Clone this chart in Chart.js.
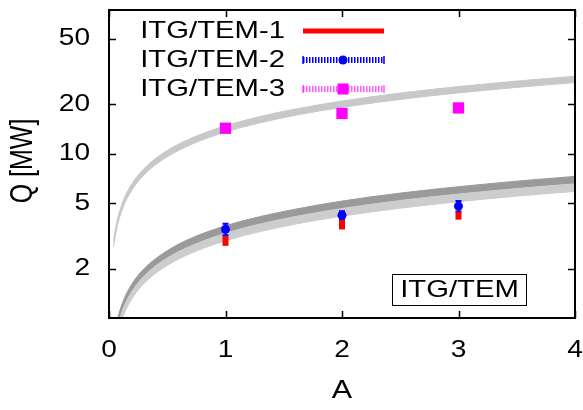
<!DOCTYPE html>
<html lang="en">
<head>
    <meta charset="UTF-8">
    <title>Q vs A</title>
    <script src="https://cdn.jsdelivr.net/npm/chart.js"></script>
    <style>
        body { margin: 0; background: #fff; }
    </style>
</head>
<body>
    <canvas id="qChart" width="583" height="410"></canvas>

    <script>
        // measured points
        const massNumbers = [1, 2, 3];
        const itg1 = [2.95, 3.7, 4.2];
        const itg1Err = [0.2, 0.24, 0.23];
        const itg2 = [3.47, 4.22, 4.8];
        const itg2Err = [0.28, 0.25, 0.35];
        const itg3 = [14.3, 17.6, 19.0];
        const itg3Err = [0.4, 0.5, 0.7];

        // scaling bands
        const bandA = [0.04, 0.06, 0.09, 0.13, 0.18, 0.25, 0.35, 0.5, 0.7, 1, 1.3, 1.6, 2, 2.5, 3, 3.5, 4];
        const upperHigh = [2.96, 3.63, 4.44, 5.34, 6.28, 7.40, 8.76, 10.47, 12.38, 14.8, 16.87, 18.72, 20.93, 23.40, 25.63, 27.69, 29.6];
        const upperLow = [2.71, 3.32, 4.07, 4.89, 5.75, 6.78, 8.02, 9.58, 11.34, 13.55, 15.45, 17.14, 19.16, 21.42, 23.47, 25.35, 27.1];
        const darkHigh = [0.73, 0.89, 1.09, 1.31, 1.54, 1.82, 2.15, 2.57, 3.05, 3.64, 4.15, 4.60, 5.15, 5.76, 6.30, 6.81, 7.28];
        const darkLow = [0.66, 0.80, 0.98, 1.18, 1.39, 1.64, 1.94, 2.32, 2.74, 3.28, 3.74, 4.15, 4.64, 5.19, 5.68, 6.14, 6.56];
        const lightLow = [0.59, 0.72, 0.89, 1.06, 1.25, 1.48, 1.75, 2.09, 2.47, 2.95, 3.36, 3.73, 4.17, 4.66, 5.11, 5.52, 5.90];

        const xTicks = [0, 1, 2, 3, 4];
        const yTicks = [2, 5, 10, 20, 50];
        const legendLabels = ['ITG/TEM-1', 'ITG/TEM-2', 'ITG/TEM-3'];

        const SX = 1.22; // picture is stretched sideways
        const FONT = '"Liberation Sans", Arial, Helvetica, sans-serif';

        function txt(ctx, s, x, y, size, align, rotated) {
            ctx.save();
            ctx.translate(x, y);
            if (rotated) {
                ctx.rotate(-Math.PI / 2);
                ctx.scale(1, SX);
            } else {
                ctx.scale(SX, 1);
            }
            ctx.font = size + 'px ' + FONT;
            ctx.fillStyle = '#000';
            ctx.textAlign = align;
            ctx.textBaseline = 'middle';
            ctx.fillText(s, 0, 0);
            ctx.restore();
        }

        const pts = (xs, ys) => xs.map((x, i) => ({ x: x, y: ys[i] }));

        function band(label, ys, color, fill) {
            return {
                label: label,
                data: pts(bandA, ys),
                borderColor: color,
                backgroundColor: color,
                borderWidth: 1,
                pointRadius: 0,
                fill: fill,
                cubicInterpolationMode: 'monotone'
            };
        }

        // error bars go under their own markers
        const errorBars = {
            id: 'errorBars',
            beforeDatasetDraw(chart, args) {
                const ds = chart.data.datasets[args.index];
                if (!ds.errors) return;
                const ctx = chart.ctx;
                const xs = chart.scales.x, ys = chart.scales.y;
                ctx.save();
                ctx.strokeStyle = ds.barColor;
                ctx.lineWidth = ds.barWidth;
                ds.data.forEach((p, i) => {
                    const px = xs.getPixelForValue(p.x);
                    const top = ys.getPixelForValue(p.y + ds.errors[i]);
                    const bot = ys.getPixelForValue(p.y - ds.errors[i]);
                    ctx.beginPath();
                    ctx.moveTo(px, top);
                    ctx.lineTo(px, bot);
                    if (ds.capWidth) {
                        ctx.moveTo(px - ds.capWidth, top);
                        ctx.lineTo(px + ds.capWidth, top);
                        ctx.moveTo(px - ds.capWidth, bot);
                        ctx.lineTo(px + ds.capWidth, bot);
                    }
                    ctx.stroke();
                });
                ctx.restore();
            }
        };

        // gnuplot-like frame, inward ticks, labels and key
        const decorations = {
            id: 'decorations',
            afterDraw(chart) {
                const ctx = chart.ctx;
                const a = chart.chartArea;
                const xs = chart.scales.x, ys = chart.scales.y;

                ctx.save();
                ctx.strokeStyle = '#000';
                ctx.lineWidth = 1.5;
                ctx.beginPath();
                xTicks.forEach(v => {
                    const px = Math.round(xs.getPixelForValue(v)) + 0.5;
                    ctx.moveTo(px, a.bottom); ctx.lineTo(px, a.bottom - 7);
                    ctx.moveTo(px, a.top); ctx.lineTo(px, a.top + 7);
                });
                yTicks.forEach(v => {
                    const py = Math.round(ys.getPixelForValue(v)) + 0.5;
                    ctx.moveTo(a.left, py); ctx.lineTo(a.left + 7, py);
                    ctx.moveTo(a.right, py); ctx.lineTo(a.right - 7, py);
                });
                ctx.stroke();
                ctx.lineWidth = 2;
                ctx.strokeRect(a.left, a.top, a.right - a.left, a.bottom - a.top);
                ctx.restore();

                xTicks.forEach(v => txt(ctx, String(v), xs.getPixelForValue(v), 351, 23, 'center'));
                yTicks.forEach(v => txt(ctx, String(v), 90 / SX * SX, ys.getPixelForValue(v), 23, 'right'));
                txt(ctx, 'A', (a.left + a.right) / 2, 391, 25, 'center');
                txt(ctx, 'Q [MW]', 24, 161, 25, 'center', true);

                // key
                const rows = [31, 60, 89];
                legendLabels.forEach((s, i) => txt(ctx, s, 285, rows[i], 24, 'right'));
                const x0 = 303, x1 = 384, xm = 343;
                ctx.save();
                ctx.strokeStyle = '#ff0000';
                ctx.lineWidth = 5;
                ctx.beginPath(); ctx.moveTo(x0, rows[0]); ctx.lineTo(x1, rows[0]); ctx.stroke();

                const dashed = (color, y) => {
                    ctx.strokeStyle = color;
                    ctx.lineWidth = 6;
                    ctx.setLineDash([1.5, 1.5]);
                    ctx.beginPath(); ctx.moveTo(x0, y); ctx.lineTo(x1, y); ctx.stroke();
                    ctx.setLineDash([]);
                    ctx.lineWidth = 1.5;
                    ctx.beginPath();
                    ctx.moveTo(x0, y - 4); ctx.lineTo(x0, y + 4);
                    ctx.moveTo(x1, y - 4); ctx.lineTo(x1, y + 4);
                    ctx.stroke();
                };
                dashed('#0000ff', rows[1]);
                ctx.fillStyle = '#0000ff';
                ctx.beginPath(); ctx.arc(xm, rows[1], 4.5, 0, Math.PI * 2); ctx.fill();
                dashed('rgba(255,0,255,0.65)', rows[2]);
                ctx.fillStyle = '#ff00ff';
                ctx.fillRect(xm - 5.5, rows[2] - 5.5, 11, 11);
                ctx.restore();

                // boxed label
                ctx.save();
                ctx.strokeStyle = '#000';
                ctx.lineWidth = 1;
                ctx.strokeRect(392.5, 274.5, 134, 31);
                ctx.restore();
                txt(ctx, 'ITG/TEM', 459.5, 290, 24, 'center');
            }
        };

        const ctx = document.getElementById('qChart').getContext('2d');
        const chart = new Chart(ctx, {
            type: 'line',
            data: {
                datasets: [
                    {
                        label: legendLabels[0],
                        data: pts(massNumbers, itg1),
                        errors: itg1Err, barColor: '#ff0000', barWidth: 6, capWidth: 0,
                        showLine: false, pointRadius: 0
                    },
                    {
                        label: legendLabels[1],
                        data: pts(massNumbers, itg2),
                        errors: itg2Err, barColor: '#0000ff', barWidth: 2, capWidth: 3,
                        showLine: false, pointRadius: 4.5, pointStyle: 'circle',
                        backgroundColor: '#0000ff', borderColor: '#0000ff', pointBorderWidth: 0
                    },
                    {
                        label: legendLabels[2],
                        data: pts(massNumbers, itg3),
                        errors: itg3Err, barColor: '#ff00ff', barWidth: 2, capWidth: 4,
                        showLine: false, pointRadius: 8, pointStyle: 'rect',
                        backgroundColor: '#ff00ff', borderColor: '#ff00ff', pointBorderWidth: 0
                    },
                    band('light low', lightLow, '#cdcdcd', false),
                    band('light high', darkLow, '#cdcdcd', '-1'),
                    band('dark high', darkHigh, '#9a9a9a', '-1'),
                    band('upper low', upperLow, '#c8c8c8', false),
                    band('upper high', upperHigh, '#c8c8c8', '-1')
                ]
            },
            options: {
                responsive: false,
                devicePixelRatio: 1,
                animation: false,
                layout: { padding: { top: 10, right: 8, left: 0, bottom: 0 } },
                plugins: { legend: { display: false }, tooltip: { enabled: false } },
                scales: {
                    x: {
                        type: 'linear', min: 0, max: 4,
                        grid: { display: false }, border: { display: false },
                        ticks: { display: false },
                        afterFit: s => { s.height = 92; }
                    },
                    y: {
                        type: 'logarithmic', min: 1, max: 75,
                        grid: { display: false }, border: { display: false },
                        ticks: { display: false },
                        afterFit: s => { s.width = 109; }
                    }
                }
            },
            plugins: [errorBars, decorations]
        });
    </script>
</body>
</html>
